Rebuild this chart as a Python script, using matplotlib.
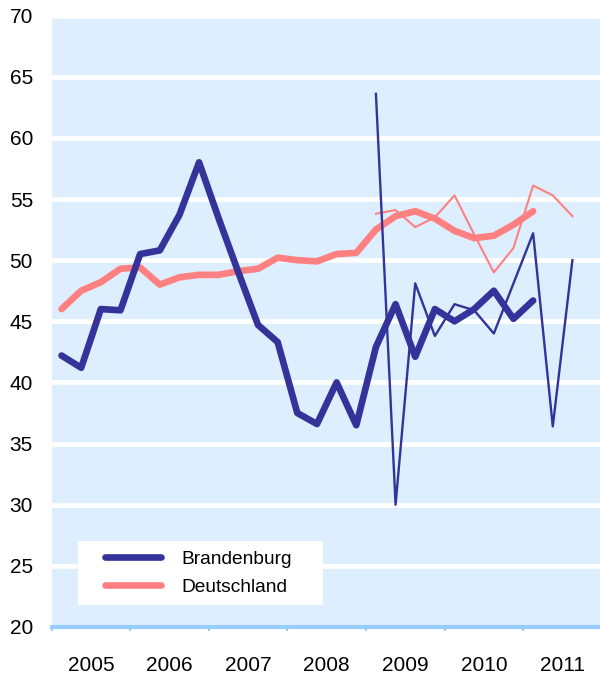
import matplotlib
matplotlib.use('Agg')
import matplotlib.pyplot as plt
import numpy as np
from matplotlib.patches import Rectangle
from matplotlib.ticker import FixedLocator, FixedFormatter, NullFormatter

# ---- data (quarterly, index 0 = 2005 Q1) ----
years = ['2005', '2006', '2007', '2008', '2009', '2010', '2011']
brandenburg_trend = [42.2, 41.2, 46.0, 45.9, 50.5, 50.8, 53.7, 58.0, 53.4, 49.0,
                     44.7, 43.3, 37.5, 36.6, 40.0, 36.5, 42.9, 46.4, 42.1, 46.0,
                     45.0, 46.0, 47.5, 45.2, 46.7]
deutschland_trend = [46.0, 47.5, 48.2, 49.3, 49.4, 48.0, 48.6, 48.8, 48.8, 49.1,
                     49.3, 50.2, 50.0, 49.9, 50.5, 50.6, 52.5, 53.6, 54.0, 53.4,
                     52.4, 51.8, 52.0, 52.9, 54.0]
quarterly_start = 16  # 2009 Q1
brandenburg_quarterly = [63.6, 30.0, 48.1, 43.8, 46.4, 45.9, 44.0, 48.1, 52.2, 36.4, 50.0]
deutschland_quarterly = [53.8, 54.1, 52.7, 53.5, 55.3, 52.1, 49.0, 51.0, 56.1, 55.3, 53.6]
series_labels = ['Brandenburg', 'Deutschland']

BLUE = '#333399'
PINK = '#FF8080'

plt.rcParams['font.family'] = ['Liberation Sans', 'DejaVu Sans']

fig = plt.figure(figsize=(6, 6.75), dpi=100)
W, H = 600.0, 675.0
left, right, top, bottom = 51.7, 601.9, 15.6, 627.0
ax = fig.add_axes([left / W, 1 - bottom / H, (right - left) / W, (bottom - top) / H])
ax.set_facecolor('#DDEEFF')

x_trend = np.arange(len(brandenburg_trend))
x_q = np.arange(quarterly_start, quarterly_start + len(brandenburg_quarterly))

l_de, = ax.plot(x_trend, deutschland_trend, color=PINK, lw=4.8,
                solid_capstyle='round', solid_joinstyle='round', zorder=3)
l_bb, = ax.plot(x_trend, brandenburg_trend, color=BLUE, lw=4.8,
                solid_capstyle='round', solid_joinstyle='round', zorder=3.1)
ax.plot(x_q, deutschland_quarterly, color=PINK, lw=1.5, zorder=3.2)
ax.plot(x_q, brandenburg_quarterly, color=BLUE, lw=1.7, zorder=3.3)

n_years = len(years)
ax.set_xlim(-0.5, 4 * n_years - 0.5)
ax.set_ylim(20, 70)
ax.set_yticks(np.arange(20, 71, 5))
ax.yaxis.grid(True, color='white', lw=3.4)
ax.set_axisbelow(True)

for s in ['left', 'right', 'top']:
    ax.spines[s].set_visible(False)
ax.spines['bottom'].set_color('#99CCFF')
ax.spines['bottom'].set_linewidth(3)
ax.spines['bottom'].set_zorder(2.5)

ax.xaxis.set_major_locator(FixedLocator([4 * k - 0.5 for k in range(n_years + 1)]))
ax.xaxis.set_major_formatter(NullFormatter())
ax.xaxis.set_minor_locator(FixedLocator([4 * k + 1.5 for k in range(n_years)]))
ax.xaxis.set_minor_formatter(FixedFormatter(years))
ax.tick_params(axis='x', which='major', length=3, width=1.5, color='#99CCFF')
ax.tick_params(axis='x', which='minor', length=0, pad=21, labelsize=15)
ax.tick_params(axis='y', length=0, pad=13.5, labelsize=15)

# legend box
fig.add_artist(Rectangle((78.3 / W, 1 - 605 / H), 245 / W, 64 / H,
                         transform=fig.transFigure, facecolor='white',
                         edgecolor='none', zorder=1))
leg = fig.legend([l_bb, l_de], series_labels, loc='center left',
                 bbox_to_anchor=(105 / W, 1 - 573 / H), frameon=False,
                 fontsize=13.8, borderpad=0, borderaxespad=0,
                 handlelength=2.92, handletextpad=1.08, labelspacing=0.55)
leg.set_zorder(2)
for h in leg.legend_handles:
    h.set_solid_capstyle('round')

fig.savefig('out.png', dpi=100)
